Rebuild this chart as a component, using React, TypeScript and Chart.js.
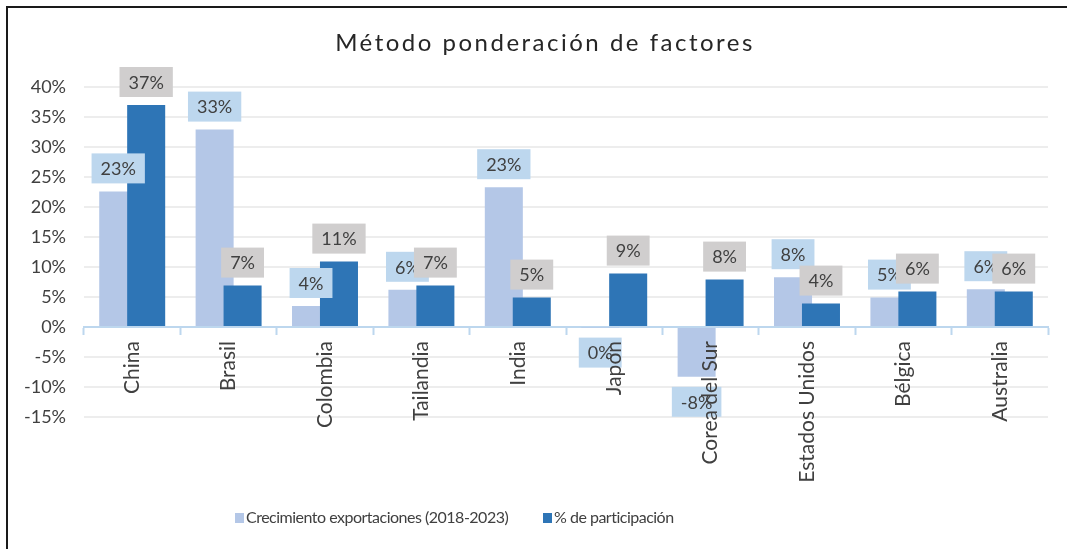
import React, { useEffect, useRef } from 'react';
import { Chart, registerables } from 'chart.js';

Chart.register(...registerables);

const chartTitle = 'Método ponderación de factores';
const categories = ['China', 'Brasil', 'Colombia', 'Tailandia', 'India', 'Japón', 'Corea del Sur', 'Estados Unidos', 'Bélgica', 'Australia'];
const seriesNames = ['Crecimiento exportaciones (2018-2023)', '% de participación'];
const crecimiento = [22.6, 32.9, 3.5, 6.2, 23.3, -0.1, -8.3, 8.3, 4.9, 6.3];
const participacion = [37, 6.9, 10.9, 6.9, 4.9, 8.9, 7.9, 3.9, 5.9, 5.9];
const yMin = -15;
const yMax = 40;
const yStep = 5;

const FONT = 'Lato, "Noto Sans", sans-serif';
const LIGHT = '#B4C7E7';
const DARK = '#2E75B6';
const LIGHT_BOX = '#BDD7EE';
const GRAY_BOX = '#D0CECE';
const AXIS = '#BDD7EE';
const GRID = '#EDEDED';
const TXT = '#404040';

const drawOrderPlugin = {
  id: 'drawOrder',
  beforeDatasetsDraw(chart: any) {
    const meta = chart.getDatasetMeta(0);
    if (meta && meta.controller) meta.controller.draw();
  },
  beforeDatasetDraw(_chart: any, args: any) {
    if (args.index === 0) return false;
    return true;
  },
};

const labelPlugin = {
  id: 'boxLabels',
  afterDatasetsDraw(chart: any) {
    const ctx = chart.ctx;
    const fills = [LIGHT_BOX, GRAY_BOX];
    ctx.save();
    ctx.font = `18px ${FONT}`;
    ctx.textAlign = 'center';
    ctx.textBaseline = 'middle';
    [0, 1].forEach((di) => {
      const meta = chart.getDatasetMeta(di);
      const values = chart.data.datasets[di].data as number[];
      meta.data.forEach((bar: any, i: number) => {
        const v = values[i];
        const txt = `${Math.round(v)}%`;
        const w = ctx.measureText(txt).width + 18;
        const h = 30;
        let top: number;
        if (v >= 0) {
          top = bar.y - 8 - h;
        } else {
          top = bar.y + 10;
        }
        ctx.fillStyle = fills[di];
        ctx.fillRect(bar.x - w / 2, top, w, h);
        ctx.fillStyle = TXT;
        ctx.fillText(txt, bar.x, top + h / 2 + 1);
      });
    });
    ctx.restore();
  },
};

const decorPlugin = {
  id: 'decor',
  beforeDraw(chart: any) {
    const ctx = chart.ctx;
    ctx.save();
    ctx.fillStyle = '#ffffff';
    ctx.fillRect(0, 0, chart.width, chart.height);
    ctx.restore();
  },
  afterDraw(chart: any) {
    const ctx = chart.ctx;
    ctx.save();
    // frame
    ctx.strokeStyle = '#1a1a1a';
    ctx.lineWidth = 2;
    ctx.beginPath();
    ctx.moveTo(7, chart.height);
    ctx.lineTo(7, 7);
    ctx.lineTo(chart.width, 7);
    ctx.stroke();
    // title
    ctx.fillStyle = '#262626';
    ctx.font = `24px ${FONT}`;
    (ctx as any).letterSpacing = '2.5px';
    ctx.textAlign = 'center';
    ctx.textBaseline = 'middle';
    ctx.fillText(chartTitle, 545, 43);
    (ctx as any).letterSpacing = '-0.5px';
    // legend
    ctx.font = `16px ${FONT}`;
    ctx.textAlign = 'left';
    const colors = [LIGHT, DARK];
    const xs = [235, 543];
    seriesNames.forEach((name, i) => {
      ctx.fillStyle = colors[i];
      ctx.fillRect(xs[i], 513, 9, 10);
      ctx.fillStyle = TXT;
      ctx.fillText(name, xs[i] + 11, 518);
    });
    (ctx as any).letterSpacing = '0px';
    ctx.restore();
  },
};

export default function App() {
  const ref = useRef<HTMLCanvasElement>(null);
  useEffect(() => {
    const canvas = ref.current;
    if (!canvas) return;
    const chart = new Chart(canvas, {
      type: 'bar',
      data: {
        labels: categories,
        datasets: [
          { label: seriesNames[0], data: crecimiento, backgroundColor: LIGHT, categoryPercentage: 0.58, barPercentage: 1.36 },
          { label: seriesNames[1], data: participacion, backgroundColor: DARK, categoryPercentage: 0.58, barPercentage: 1.36 },
        ],
      },
      options: {
        responsive: false,
        animation: false,
        devicePixelRatio: 1,
        layout: { padding: { top: 87, bottom: 132, left: 0, right: 19 } },
        plugins: {
          legend: { display: false },
          title: { display: false },
          tooltip: { enabled: false },
        },
        scales: {
          x: {
            position: { y: 0 } as any,
            offset: true,
            grid: {
              display: true,
              drawOnChartArea: false,
              drawTicks: true,
              tickLength: 7,
              tickColor: AXIS,
              tickWidth: 2,
              offset: true,
            },
            border: { display: true, color: AXIS, width: 2 },
            ticks: {
              z: 1,
              minRotation: 90,
              maxRotation: 90,
              autoSkip: false,
              padding: 7,
              color: TXT,
              font: { family: FONT, size: 21 },
            },
          },
          y: {
            min: yMin,
            max: yMax,
            ticks: {
              stepSize: yStep,
              callback: (v: any) => `${v}%`,
              padding: 18,
              color: TXT,
              font: { family: FONT, size: 18 },
            },
            grid: { color: GRID, lineWidth: 2, drawTicks: false },
            border: { display: false },
            afterFit: (s: any) => {
              s.width = 84;
            },
          },
        },
      },
      plugins: [decorPlugin, drawOrderPlugin, labelPlugin],
    });
    return () => chart.destroy();
  }, []);
  return (
    <div style={{ position: 'absolute', left: 0, top: 0, width: 1067, height: 549 }}>
      <canvas ref={ref} width={1067} height={549} style={{ display: 'block', width: 1067, height: 549 }} />
    </div>
  );
}
